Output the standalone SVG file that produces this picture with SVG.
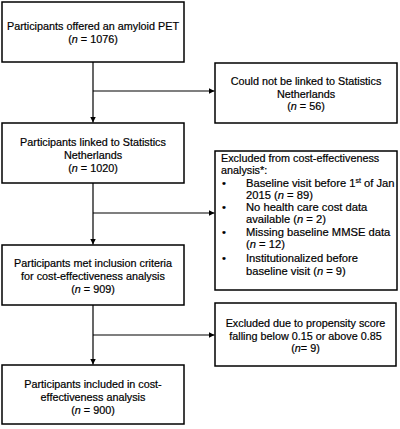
<svg xmlns="http://www.w3.org/2000/svg" width="400" height="429" viewBox="0 0 400 429">
<defs>
<marker id="arr" viewBox="0 0 10 10" refX="10" refY="5" markerWidth="6" markerHeight="6" markerUnits="userSpaceOnUse" orient="auto">
<path d="M0,0 L10,5 L0,10 z" fill="#000"/>
</marker>
</defs>
<style>
.box{fill:#fff;stroke:#000;stroke-width:1.5}
.t{font-family:"Liberation Sans",Arial,sans-serif;font-size:10.8px;fill:#000;stroke:#000;stroke-width:0.2}
.b{font-size:11.2px}
.c{text-anchor:middle}
.ln{stroke:#000;stroke-width:1.2;fill:none}
</style>
<rect width="400" height="429" fill="#fff"/>
<g id="connectors">
<line class="ln" x1="93" y1="62" x2="93" y2="122.5" marker-end="url(#arr)"/>
<line class="ln" x1="93" y1="91" x2="214.5" y2="91" marker-end="url(#arr)"/>
<line class="ln" x1="93" y1="183" x2="93" y2="244.5" marker-end="url(#arr)"/>
<line class="ln" x1="93" y1="213" x2="214.5" y2="213" marker-end="url(#arr)"/>
<line class="ln" x1="93" y1="305" x2="93" y2="364.5" marker-end="url(#arr)"/>
<line class="ln" x1="93" y1="335" x2="214.5" y2="335" marker-end="url(#arr)"/>
</g>
<g id="n1">
<rect class="box" x="2" y="2" width="182" height="60"/>
<text class="t c" x="93" y="30">Participants offered an amyloid PET</text>
<text class="t c" x="93" y="43">(<tspan font-style="italic">n</tspan> = 1076)</text>
</g>
<g id="n2">
<rect class="box" x="2" y="123" width="182" height="60"/>
<text class="t c" x="93" y="146">Participants linked to Statistics</text>
<text class="t c" x="93" y="159">Netherlands</text>
<text class="t c" x="93" y="172">(<tspan font-style="italic">n</tspan> = 1020)</text>
</g>
<g id="n3">
<rect class="box" x="2" y="245" width="182" height="60"/>
<text class="t c" x="93" y="267">Participants met inclusion criteria</text>
<text class="t c" x="93" y="280">for cost-effectiveness analysis</text>
<text class="t c" x="93" y="293">(<tspan font-style="italic">n</tspan> = 909)</text>
</g>
<g id="n4">
<rect class="box" x="2" y="365" width="182" height="59"/>
<text class="t c" x="93" y="388">Participants included in cost-</text>
<text class="t c" x="93" y="401">effectiveness analysis</text>
<text class="t c" x="93" y="414">(<tspan font-style="italic">n</tspan> = 900)</text>
</g>
<g id="a">
<rect class="box" x="215" y="63" width="182" height="60"/>
<text class="t c" x="306" y="85">Could not be linked to Statistics</text>
<text class="t c" x="306" y="97.5">Netherlands</text>
<text class="t c" x="306" y="110">(<tspan font-style="italic">n</tspan> = 56)</text>
</g>
<g id="b">
<rect class="box" x="215" y="151" width="182" height="139"/>
<text class="t" x="221" y="162">Excluded from cost-effectiveness</text>
<text class="t" x="221" y="174">analysis*:</text>
<text class="t b" x="222" y="187">•</text>
<text class="t b" x="246" y="187">Baseline visit before 1<tspan font-size="7" dy="-4">st</tspan><tspan dy="4"> of Jan</tspan></text>
<text class="t b" x="246" y="198.5">2015 (<tspan font-style="italic">n</tspan> = 89)</text>
<text class="t b" x="222" y="211">•</text>
<text class="t b" x="246" y="211">No health care cost data</text>
<text class="t b" x="246" y="223">available (<tspan font-style="italic">n</tspan> = 2)</text>
<text class="t b" x="222" y="236">•</text>
<text class="t b" x="246" y="236">Missing baseline MMSE data</text>
<text class="t b" x="246" y="248">(<tspan font-style="italic">n</tspan> = 12)</text>
<text class="t b" x="222" y="262">•</text>
<text class="t b" x="246" y="262">Institutionalized before</text>
<text class="t b" x="246" y="275">baseline visit (<tspan font-style="italic">n</tspan> = 9)</text>
</g>
<g id="c">
<rect class="box" x="215" y="303" width="181" height="63"/>
<text class="t c" x="305.5" y="327">Excluded due to propensity score</text>
<text class="t c" x="305.5" y="340">falling below 0.15 or above 0.85</text>
<text class="t c" x="305.5" y="352">(<tspan font-style="italic">n</tspan>= 9)</text>
</g>
</svg>
